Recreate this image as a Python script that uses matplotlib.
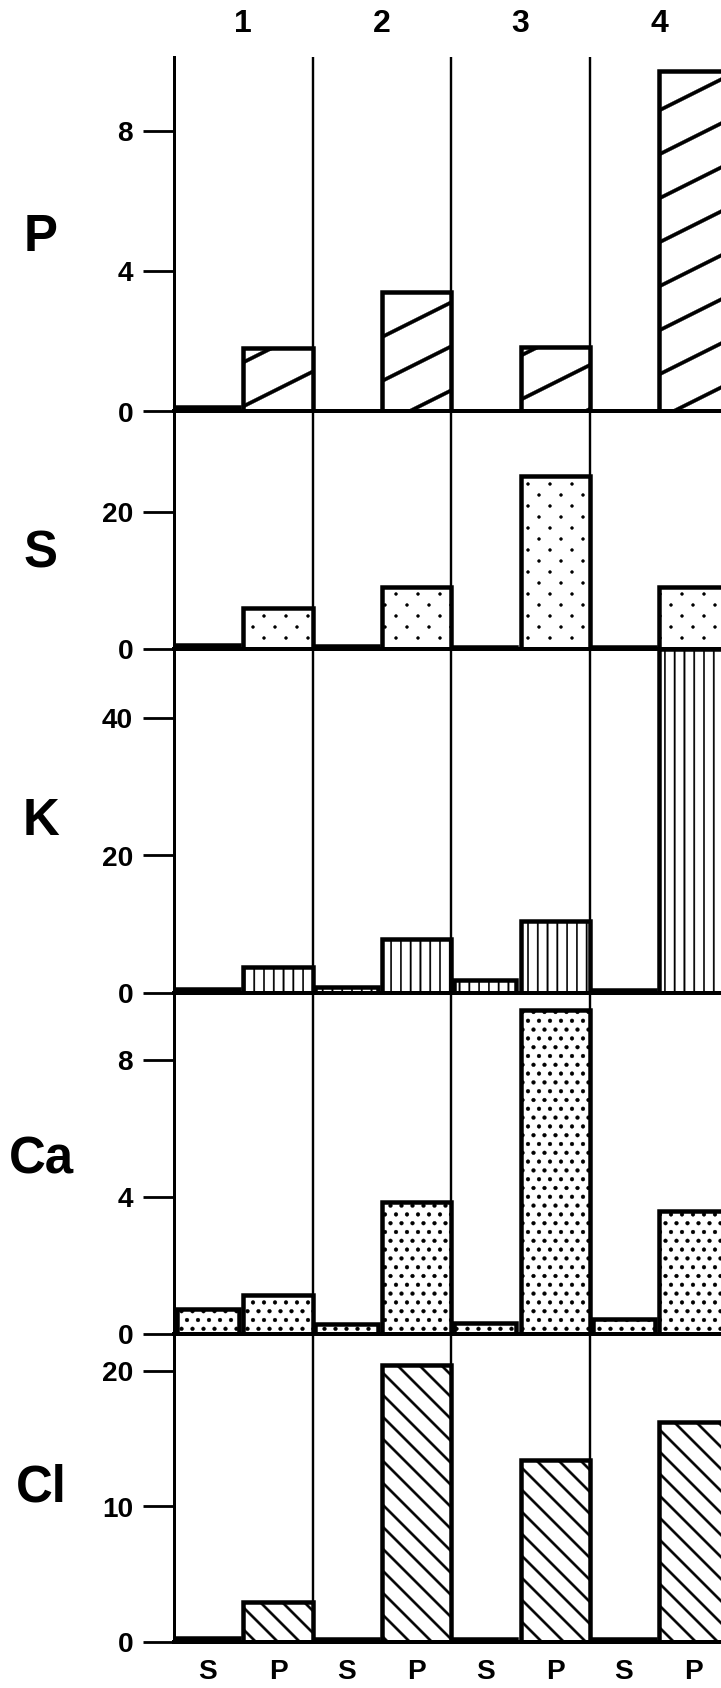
import numpy as np
import matplotlib
matplotlib.use('Agg')
import matplotlib.pyplot as plt
import matplotlib.hatch as mhatch
import matplotlib.transforms as mtransforms
from matplotlib.path import Path

# ------------------------------------------------------------------ data
sites = ['1', '2', '3', '4']
elements = ['P', 'S', 'K', 'Ca', 'Cl']
bar_labels = ['S', 'P']

P_soil = [0.12, 0.0, 0.0, 0.0]
P_plant = [1.81, 3.39, 1.83, 9.71]
S_soil = [0.6, 0.35, 0.3, 0.25]
S_plant = [6.0, 9.1, 25.3, 9.0]
K_soil = [0.5, 0.9, 1.9, 0.4]
K_plant = [3.7, 7.9, 10.5, 50.0]
Ca_soil = [0.73, 0.28, 0.31, 0.45]
Ca_plant = [1.14, 3.84, 9.47, 3.59]
Cl_soil = [0.33, 0.22, 0.22, 0.22]
Cl_plant = [2.92, 20.44, 13.43, 16.26]

P_ticks = [0, 4, 8]
S_ticks = [0, 20]
K_ticks = [0, 20, 40]
Ca_ticks = [0, 4, 8]
Cl_ticks = [0, 10, 20]

soil_vals = {'P': P_soil, 'S': S_soil, 'K': K_soil, 'Ca': Ca_soil, 'Cl': Cl_soil}
plant_vals = {'P': P_plant, 'S': S_plant, 'K': K_plant, 'Ca': Ca_plant, 'Cl': Cl_plant}
ticks = {'P': P_ticks, 'S': S_ticks, 'K': K_ticks, 'Ca': Ca_ticks, 'Cl': Cl_ticks}

# ------------------------------------------------------------------ layout / style
DPI = 88
W, H = 721, 1688


def pt(px):
    return px * 72.0 / DPI


panel_px = {'P': (57, 411.5), 'S': (411.5, 649), 'K': (649, 993),
            'Ca': (993, 1334), 'Cl': (1334, 1642)}
ymax = {'P': 10.11, 'S': 34.67, 'K': 50.04, 'Ca': 9.96, 'Cl': 22.73}
hatches = {'P': '/', 'S': 'o', 'K': '|', 'Ca': '.', 'Cl': '\\'}
label_frac = {'P': 0.49, 'S': 0.40, 'K': 0.50, 'Ca': 0.51, 'Cl': 0.50}

AX_LEFT_PX = 174
COL_PX = 138.6
S_CENTER, S_W = 0.245, 0.45
P_CENTER, P_W = 0.75, 0.50

# ------------------------------------------------------------------ custom hatches
T = int(DPI)
CIRC = Path.unit_circle()


def seg_poly(x0, y0, x1, y1, w):
    d = np.array([x1 - x0, y1 - y0], float)
    n = np.array([-d[1], d[0]]) / np.hypot(d[0], d[1]) * (w / 2.0)
    return np.array([[x0 + n[0], y0 + n[1]], [x1 + n[0], y1 + n[1]],
                     [x1 - n[0], y1 - n[1]], [x0 - n[0], y0 - n[1]]])


class FigureHatch(mhatch.HatchPatternBase):
    def __init__(self, hatch, density):
        self.items = []
        h = hatch or ''
        if '/' in h:
            lw = 3.4 / T
            for k in range(-3, 4):
                c = k * 0.5
                self._poly(seg_poly(-0.2, c - 0.1, 1.2, c + 0.6, lw))
        if '\\' in h:
            lw = 2.2 / T
            for k in range(-2, 11):
                c = k * 0.25
                self._poly(seg_poly(-0.2, c + 0.2, 1.2, c - 1.2, lw))
        if '|' in h:
            lw = 1.4 / T
            for k in range(0, 10):
                x = k / 9.0
                self._poly(seg_poly(x, -0.1, x, 1.1, lw))
        if '.' in h:
            self._dots(8, 10, 1.9 / T)
        if 'o' in h:
            self._dots(4, 8, 1.5 / T)
        self.num_vertices = sum(len(v) for v, c in self.items)

    def _poly(self, pts):
        v = np.vstack([pts, pts[:1]])
        c = np.full(len(v), Path.LINETO, dtype=Path.code_type)
        c[0] = Path.MOVETO
        c[-1] = Path.CLOSEPOLY
        self.items.append((v, c))

    def _dots(self, nx, ny, r):
        for j in range(ny + 1):
            y = j / ny
            shift = 0.5 / nx if j % 2 else 0.0
            for i in range(-1, nx + 1):
                x = i / nx + shift
                self.items.append((CIRC.vertices * r + [x, y], CIRC.codes))

    def set_vertices_and_codes(self, vertices, codes):
        cur = 0
        for v, c in self.items:
            n = len(v)
            vertices[cur:cur + n] = v
            codes[cur:cur + n] = c
            cur += n


mhatch._hatch_types[:] = [FigureHatch]

# ------------------------------------------------------------------ figure
plt.rcParams['font.family'] = ['Liberation Sans', 'DejaVu Sans']
plt.rcParams['font.weight'] = 'bold'
plt.rcParams['hatch.linewidth'] = 0.3
plt.rcParams['hatch.color'] = 'black'

fig = plt.figure(figsize=((W + 0.2) / DPI, (H + 0.2) / DPI), dpi=DPI)
fig.patch.set_facecolor('white')

x = np.arange(len(sites))
left = AX_LEFT_PX / W
width = COL_PX * len(sites) / W

for idx, e in enumerate(elements):
    top, bot = panel_px[e]
    ax = fig.add_axes([left, 1 - bot / H, width, (bot - top) / H])
    ax.patch.set_visible(False)
    ax.set_xlim(0, len(sites))
    ax.set_ylim(0, ymax[e])

    for d in x[1:]:
        ax.axvline(d, color='black', lw=pt(2.4), zorder=2)

    ax.bar(x + S_CENTER, soil_vals[e], width=S_W, facecolor='white',
           edgecolor='black', linewidth=pt(4.5), hatch=hatches[e], zorder=3)
    ax.bar(x + P_CENTER, plant_vals[e], width=P_W, facecolor='white',
           edgecolor='black', linewidth=pt(4.5), hatch=hatches[e], zorder=3)

    for s in ('top', 'right'):
        ax.spines[s].set_visible(False)
    ax.spines['left'].set_linewidth(pt(3.0))
    ax.spines['bottom'].set_linewidth(pt(4.0))
    ax.spines['bottom'].set_zorder(4)

    ax.set_yticks(ticks[e])
    ax.set_yticklabels([str(t) for t in ticks[e]])
    ax.tick_params(axis='y', length=pt(31), width=pt(2.8), pad=pt(10),
                   labelsize=pt(28), color='black')

    trans = mtransforms.blended_transform_factory(fig.transFigure, ax.transAxes)
    ax.text(41 / W, label_frac[e], e, transform=trans, ha='center', va='center',
            fontsize=pt(51), fontweight='bold')

    if idx == 0:
        for i, s in enumerate(sites):
            ax.annotate(s, xy=(x[i] + 0.5, 1), xycoords=('data', 'axes fraction'),
                        xytext=(0, pt(33)), textcoords='offset points',
                        ha='center', va='center', fontsize=pt(32), fontweight='bold')

    if idx == len(elements) - 1:
        pos = np.concatenate([x + S_CENTER, x + P_CENTER])
        labs = [bar_labels[0]] * len(sites) + [bar_labels[1]] * len(sites)
        ax.set_xticks(pos)
        ax.set_xticklabels(labs)
        ax.tick_params(axis='x', length=0, pad=pt(17), labelsize=pt(28))
    else:
        ax.set_xticks([])

fig.savefig('out.png', dpi=DPI, facecolor='white')
